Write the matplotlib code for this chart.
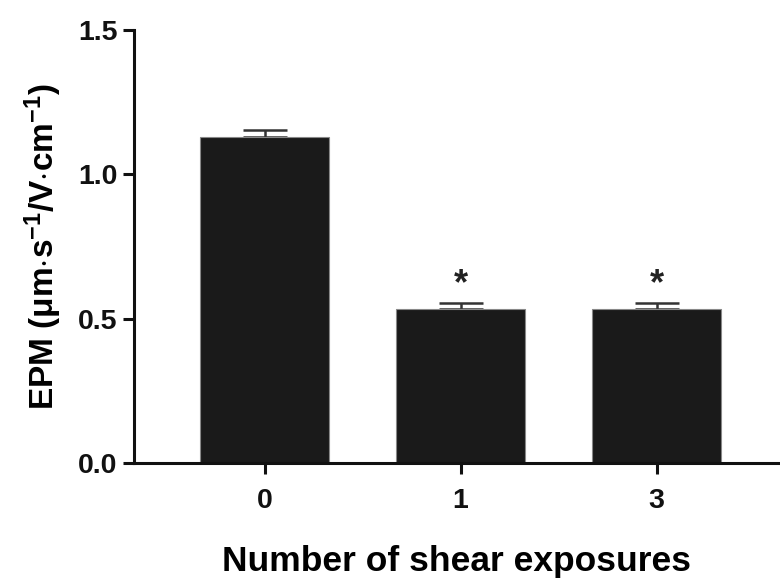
import matplotlib
matplotlib.use("Agg")
import matplotlib.pyplot as plt

categories = ["0", "1", "3"]
values = [1.13, 0.535, 0.535]
errors = [0.022, 0.02, 0.02]
signif = ["", "*", "*"]

plt.rcParams['font.family'] = ['Liberation Sans', 'DejaVu Sans']
plt.rcParams['font.weight'] = 'bold'
plt.rcParams['axes.labelweight'] = 'bold'
plt.rcParams['mathtext.fontset'] = 'custom'
plt.rcParams['mathtext.rm'] = 'Liberation Sans:bold'
plt.rcParams['mathtext.it'] = 'Liberation Sans:bold'
plt.rcParams['mathtext.bf'] = 'Liberation Sans:bold'
plt.rcParams['mathtext.sf'] = 'Liberation Sans:bold'

fig = plt.figure(figsize=(7.8, 5.8), dpi=100)
ax = fig.add_axes([134/780, (580-463)/580, 1-134/780, (463-30)/580])

x = list(range(len(categories)))
ax.bar(x, values, width=0.66, color='#1a1a1a', edgecolor='#888888', linewidth=0.8, zorder=2)
ax.errorbar(x, values, yerr=[[0]*3, errors], fmt='none', ecolor='#333333',
            elinewidth=1.8, capsize=16, capthick=1.8, zorder=1)
for xi, v, e, s in zip(x, values, errors, signif):
    if s:
        ax.text(xi, v + e + 0.062, s, ha='center', va='center', fontsize=26, color='#222222')

ax.set_xlim(-0.667, 2.63)
ax.set_ylim(0, 1.5)
ax.set_yticks([0, 0.5, 1.0, 1.5])
ax.set_yticklabels(["0.0", "0.5", "1.0", "1.5"])
ax.set_xticks(x)
ax.set_xticklabels(categories)
for s in ['top', 'right']:
    ax.spines[s].set_visible(False)
for s in ['left', 'bottom']:
    ax.spines[s].set_linewidth(2.2)
    ax.spines[s].set_color('#111111')
ax.tick_params(axis='both', width=2.2, length=8, labelsize=20.5, colors='#111111', pad=4)
ax.tick_params(axis='x', pad=10)
ax.set_ylabel(r"EPM ($\mu$m$\cdot$s$^{-1}$/V$\cdot$cm$^{-1}$)", fontsize=24, labelpad=10)
ax.set_xlabel("Number of shear exposures", fontsize=25.5, labelpad=22)

fig.savefig("out.png", dpi=100)
